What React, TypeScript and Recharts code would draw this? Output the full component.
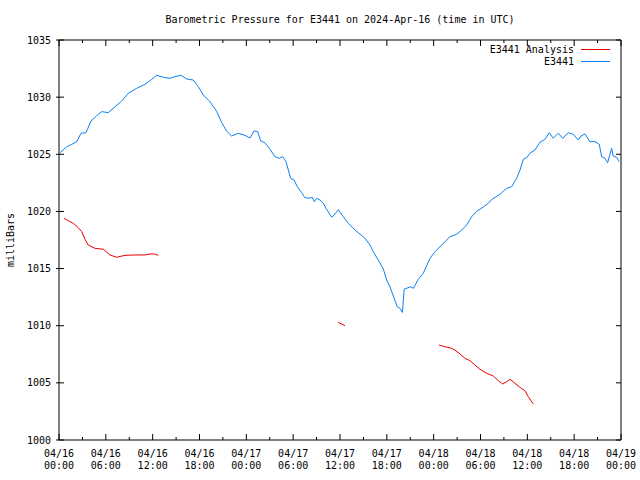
import { Customized, Line, LineChart, XAxis, YAxis } from "recharts";

// hours since 2024-04-16 00:00 UTC
const blueHours = [
  0.13, 0.99, 1.63, 2.27, 2.82, 3.46, 4.1, 4.83, 5.47, 6.32,
  7.17, 8.03, 8.88, 9.95, 11.02, 11.88, 12.52, 13.36, 14.22, 14.86,
  15.63, 16.36, 17.2, 17.85, 18.49, 19.34, 20.2, 20.84, 21.48, 22.12,
  22.97, 23.83, 24.47, 24.98, 25.46, 25.84, 26.39, 27.03, 27.67, 28.22,
  28.66, 29.08, 29.38, 29.68, 30.11, 30.53, 31.09, 31.51, 32.03, 32.45,
  32.71, 33.01, 33.44, 33.86, 34.29, 34.94, 35.36, 35.78, 36.42, 37.06,
  37.92, 38.56, 39.2, 39.84, 40.26, 40.9, 41.55, 41.98, 42.4, 42.83,
  43.34, 43.68, 44.0, 44.22, 44.84, 45.06, 45.39, 46.03, 46.67, 47.53,
  48.17, 49.03, 50.09, 50.95, 51.59, 52.23, 52.87, 53.51, 54.36, 55.0,
  55.43, 56.5, 57.35, 57.99, 58.63, 59.06, 59.48, 59.92, 60.34, 60.98,
  61.62, 62.26, 62.81, 63.32, 63.96, 64.53, 65.24, 65.88, 66.53, 66.87,
  67.38, 68.02, 68.66, 69.22, 69.52, 69.95, 70.29, 70.8, 71.01, 71.45,
  71.78,
];
const bluePressure = [
  1025.14, 1025.66, 1025.87, 1026.1, 1026.84, 1026.89, 1027.91, 1028.38, 1028.73, 1028.64,
  1029.16, 1029.66, 1030.34, 1030.77, 1031.12, 1031.56, 1031.91, 1031.74, 1031.65, 1031.79,
  1031.91, 1031.59, 1031.5, 1030.91, 1030.19, 1029.6, 1028.76, 1027.78, 1027.02, 1026.6,
  1026.84, 1026.66, 1026.42, 1027.04, 1026.98, 1026.16, 1026.01, 1025.44, 1024.79, 1024.65,
  1024.79, 1024.35, 1023.62, 1022.9, 1022.75, 1022.16, 1021.64, 1021.2, 1021.15, 1021.24,
  1020.85, 1021.15, 1021.0, 1020.71, 1020.19, 1019.49, 1019.78, 1020.15, 1019.54, 1018.96,
  1018.37, 1018.02, 1017.65, 1017.06, 1016.48, 1015.75, 1014.96, 1014.0, 1013.41, 1012.6,
  1011.66, 1011.52, 1011.16, 1013.19, 1013.36, 1013.41, 1013.27, 1014.06, 1014.59, 1015.9,
  1016.48, 1017.06, 1017.79, 1018.0, 1018.37, 1018.81, 1019.54, 1020.01, 1020.39, 1020.71,
  1021.04, 1021.5, 1022.02, 1022.16, 1022.9, 1023.62, 1024.56, 1024.7, 1025.09, 1025.38,
  1026.05, 1026.31, 1026.89, 1026.4, 1026.84, 1026.4, 1026.89, 1026.75, 1026.25, 1026.6,
  1026.78, 1026.1, 1026.1, 1025.87, 1024.79, 1024.65, 1024.26, 1025.52, 1024.85, 1024.74,
  1024.35,
];

// analysis series, null = gap
const redHours = [
  0.64, 1.19, 1.83, 2.47, 2.91, 3.33, 3.75, 4.61, 5.68, 6.53,
  7.39, 8.46, 9.74, 11.02, 11.66, 12.21, 12.72, 24,
  35.78, 36.21, 36.64, 42,
  48.68, 49.45, 50.31, 50.73, 51.37, 52.01, 52.65, 53.29, 53.93, 54.79,
  55.64, 56.28, 56.84, 57.35, 57.78, 58.42, 59.06, 59.7, 60.12, 60.76,
];
const redPressure = [
  1019.4, 1019.19, 1018.96, 1018.58, 1018.23, 1017.56, 1017.06, 1016.77, 1016.69, 1016.19,
  1015.99, 1016.16, 1016.19, 1016.19, 1016.28, 1016.28, 1016.16, null,
  1010.3, 1010.15, 1010.0, null,
  1008.31, 1008.16, 1008.02, 1007.87, 1007.53, 1007.15, 1006.94, 1006.56, 1006.19, 1005.84,
  1005.6, 1005.19, 1004.9, 1005.1, 1005.31, 1004.96, 1004.61, 1004.31, 1003.79, 1003.15,
];

const xTicks = [0, 3, 6, 9, 12, 15, 18, 21, 24, 27, 30, 33, 36, 39, 42, 45, 48, 51, 54, 57, 60, 63, 66, 69, 72];
const xDates = ["04/16", "04/17", "04/18", "04/19"];
const yTicks = [1000, 1005, 1010, 1015, 1020, 1025, 1030, 1035];

const title = "Barometric Pressure for E3441 on 2024-Apr-16 (time in UTC)";
const yLabel = "milliBars";
const seriesNames = ["E3441 Analysis", "E3441"];

const BLUE = "#0a80f2";
const RED = "#e80000";
const FONT = "'DejaVu Sans Mono', monospace";

const blueData = blueHours.map((h, i) => ({ h, p: bluePressure[i] }));
const redData = redHours.map((h, i) => ({ h, p: redPressure[i] }));

function hourLabel(h: number) {
  const day = xDates[Math.floor(h / 24)];
  const hh = h % 24;
  return [day, `${hh < 10 ? "0" : ""}${hh}:00`];
}

function BottomTick({ x, y, payload }: any) {
  const h = payload.value as number;
  const major = h % 6 === 0;
  const [d, t] = hourLabel(h);
  return (
    <g>
      <line x1={x} y1={y} x2={x} y2={y - (major ? 6 : 3)} stroke="#000" />
      {major && (
        <text x={x} y={y + 17} textAnchor="middle" fontFamily={FONT} fontSize={10} fill="#000">
          {d}
        </text>
      )}
      {major && (
        <text x={x} y={y + 29} textAnchor="middle" fontFamily={FONT} fontSize={10} fill="#000">
          {t}
        </text>
      )}
    </g>
  );
}

function TopTick({ x, y, payload }: any) {
  const major = (payload.value as number) % 6 === 0;
  return <line x1={x} y1={y} x2={x} y2={y + (major ? 6 : 3)} stroke="#000" />;
}

function LeftTick({ x, y, payload }: any) {
  return (
    <g>
      <line x1={x - 3} y1={y} x2={x + 5} y2={y} stroke="#000" />
      <text x={x - 8} y={y + 3.5} textAnchor="end" fontFamily={FONT} fontSize={10} fill="#000">
        {payload.value}
      </text>
    </g>
  );
}

function RightTick({ x, y }: any) {
  return <line x1={x} y1={y} x2={x - 5} y2={y} stroke="#000" />;
}

function Decorations() {
  return (
    <g fontFamily={FONT} fontSize={10}>
      <text x={340} y={22.5} textAnchor="middle" fill="#000">{title}</text>
      <text x={14} y={240} textAnchor="middle" fill="#000" transform="rotate(-90 14 240)">{yLabel}</text>
      <text x={574} y={53} textAnchor="end" fill="#000">{seriesNames[0]}</text>
      <text x={574} y={65} textAnchor="end" fill="#000">{seriesNames[1]}</text>
    </g>
  );
}

export default function App() {
  return (
    <div style={{ position: "absolute", left: 0, top: 0, width: 640, height: 480, background: "#fff" }}>
      <LineChart width={640} height={480} margin={{ top: 39, right: 18, bottom: 0, left: 0 }}>
        <XAxis
          type="number"
          dataKey="h"
          domain={[0, 72]}
          ticks={xTicks}
          interval={0}
          allowDataOverflow
          height={40}
          tickSize={0}
          tickMargin={0}
          axisLine={{ stroke: "#000" }}
          tick={<BottomTick />}
        />
        <XAxis
          xAxisId="top"
          orientation="top"
          type="number"
          dataKey="h"
          domain={[0, 72]}
          ticks={xTicks}
          interval={0}
          allowDataOverflow
          height={1}
          tickSize={0}
          tickMargin={0}
          axisLine={{ stroke: "#000" }}
          tick={<TopTick />}
        />
        <YAxis
          type="number"
          domain={[1000, 1035]}
          ticks={yTicks}
          interval={0}
          allowDataOverflow
          width={59}
          tickSize={0}
          tickMargin={0}
          axisLine={{ stroke: "#000" }}
          tick={<LeftTick />}
        />
        <YAxis
          yAxisId="right"
          orientation="right"
          type="number"
          domain={[1000, 1035]}
          ticks={yTicks}
          interval={0}
          allowDataOverflow
          width={1}
          tickSize={0}
          tickMargin={0}
          axisLine={{ stroke: "#000" }}
          tick={<RightTick />}
        />
        {/* invisible series so the mirrored top/right axes get drawn */}
        <Line
          xAxisId="top"
          yAxisId="right"
          data={blueData}
          dataKey="p"
          stroke="none"
          dot={false}
          activeDot={false}
          legendType="none"
          isAnimationActive={false}
        />
        <Line
          data={blueData}
          dataKey="p"
          type="linear"
          stroke={BLUE}
          strokeWidth={1}
          dot={false}
          isAnimationActive={false}
        />
        <Line
          data={redData}
          dataKey="p"
          type="linear"
          stroke={RED}
          strokeWidth={1}
          dot={false}
          connectNulls={false}
          isAnimationActive={false}
        />
        <Customized component={<Decorations />} />
      </LineChart>
      {/* legend swatches */}
      <div style={{ position: "absolute", left: 581, top: 49, width: 29, height: 1, background: RED }} />
      <div style={{ position: "absolute", left: 581, top: 61, width: 29, height: 1, background: BLUE }} />
    </div>
  );
}
